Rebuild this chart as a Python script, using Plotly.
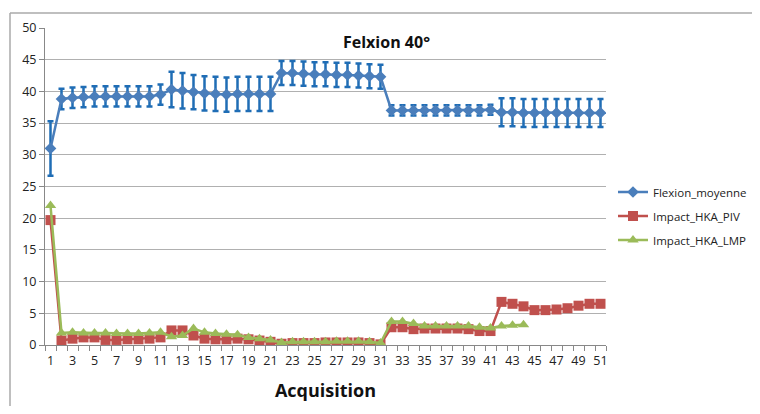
import plotly.graph_objects as go

acquisition = list(range(1, 52))

flexion_moyenne = [31.0, 38.8, 39.0, 39.1, 39.2, 39.2, 39.2, 39.2, 39.2, 39.2,
                   39.5, 40.3, 40.1, 39.9, 39.7, 39.6, 39.5, 39.6, 39.6, 39.6,
                   39.6, 42.9, 42.9, 42.8, 42.7, 42.7, 42.6, 42.6, 42.5, 42.4,
                   42.3, 37.0, 37.0, 37.0, 37.0, 37.0, 37.0, 37.0, 37.0, 37.0,
                   37.1, 36.7, 36.7, 36.6, 36.6, 36.6, 36.6, 36.6, 36.6, 36.6,
                   36.6]
flexion_err = [4.3] + [1.6] * 10 + [2.8, 2.8] + [2.7] * 8 + [1.9] * 10 + [0.8] * 10 + [2.2] * 10

impact_piv = [19.7, 0.7, 1.0, 1.2, 1.2, 0.8, 0.8, 0.9, 0.9, 1.0,
              1.2, 2.3, 2.3, 1.5, 1.0, 0.9, 0.9, 1.0, 0.9, 0.7,
              0.5, 0.2, 0.3, 0.3, 0.3, 0.4, 0.4, 0.4, 0.4, 0.3,
              0.1, 2.8, 2.8, 2.5, 2.6, 2.6, 2.6, 2.6, 2.5, 2.2,
              2.2, 6.8, 6.5, 6.1, 5.5, 5.5, 5.6, 5.8, 6.2, 6.5,
              6.5]

impact_lmp = [22.0, 1.9, 2.0, 1.9, 1.9, 1.9, 1.8, 1.8, 1.8, 1.9,
              2.0, 1.3, 1.5, 2.6, 2.0, 1.8, 1.7, 1.6, 1.2, 1.0,
              0.8, 0.4, 0.5, 0.5, 0.5, 0.5, 0.6, 0.6, 0.6, 0.5,
              0.3, 3.7, 3.7, 3.4, 3.0, 3.0, 3.0, 3.0, 3.0, 2.8,
              2.7, 3.0, 3.1, 3.2]

x_ticks = list(range(1, 52, 2))
y_ticks = list(range(0, 51, 5))

font_family = "Open Sans"

fig = go.Figure()

fig.add_trace(go.Scatter(
    x=acquisition, y=flexion_moyenne, name="Flexion_moyenne",
    mode="lines+markers", legendgroup="a",
    line=dict(color="#4A7EBB", width=2.5),
    marker=dict(symbol="diamond", size=9, color="#4A7EBB"),
    error_y=dict(type="data", array=flexion_err, visible=True,
                 color="#1F6DB5", thickness=2.5, width=3),
))
fig.add_trace(go.Scatter(
    x=acquisition, y=impact_piv, name="Impact_HKA_PIV",
    mode="lines+markers", legendgroup="b",
    line=dict(color="#C0504D", width=2.5),
    marker=dict(symbol="square", size=10, color="#C0504D"),
))
fig.add_trace(go.Scatter(
    x=acquisition[:len(impact_lmp)], y=impact_lmp, name="Impact_HKA_LMP",
    mode="lines+markers", legendgroup="c",
    line=dict(color="#9BBB59", width=2.5),
    marker=dict(symbol="triangle-up", size=10, color="#9BBB59"),
))

# page body has an 8px margin on every side: keep the figure inside the window
OFF = 8
W, H = 760 - 2 * OFF, 414 - 2 * OFF
plot_left, plot_right, plot_top, plot_bottom = 45, 606, 28, 345  # window pixels
ml = plot_left - OFF
mr = W - (plot_right - OFF)
mt = plot_top - OFF
mb = H - (plot_bottom - OFF)
pw = W - ml - mr
ph = H - mt - mb


def px_x(p):
    return (p - plot_left) / pw


def px_y(p):
    return (plot_bottom - p) / ph


fig.update_layout(
    width=W, height=H,
    margin=dict(l=ml, r=mr, t=mt, b=mb, autoexpand=False),
    paper_bgcolor="white", plot_bgcolor="white",
    font=dict(family=font_family, size=12, color="#222222"),
    showlegend=True,
    legend=dict(xref="container", yref="container",
                x=(613 - OFF) / W, y=1 - (216 - OFF) / H, xanchor="left", yanchor="middle",
                font=dict(size=11.5, color="#222222"), tracegroupgap=5,
                itemwidth=30, bgcolor="rgba(0,0,0,0)"),
    xaxis=dict(range=[0.5, 51.5], tickmode="array", tickvals=x_ticks,
               ticktext=[str(v) for v in x_ticks], ticks="", automargin=False,
               ticklabelstandoff=4,
               showgrid=False, zeroline=False, showline=True, linecolor="#888888",
               linewidth=1, tickfont=dict(size=12.5, color="#222222"),
               minor=dict(ticks="outside", tick0=0.5, dtick=1, ticklen=5,
                          tickcolor="#888888", showgrid=False),
               title=dict(text="<b>Acquisition</b>", font=dict(size=18, color="#111111"),
                          standoff=16)),
    yaxis=dict(range=[0, 50], tickmode="array", tickvals=y_ticks, ticks="outside",
               ticklen=5, tickcolor="#888888", automargin=False,
               showgrid=True, gridcolor="#B0B0B0", gridwidth=1, zeroline=False,
               showline=True, linecolor="#888888", linewidth=1,
               tickfont=dict(size=12.5, color="#222222")),
    annotations=[dict(text="<b>Felxion 40°</b>", x=px_x(386), y=px_y(42),
                      xref="paper", yref="paper", showarrow=False,
                      xanchor="center", yanchor="middle",
                      font=dict(size=16, color="#111111"))],
    shapes=[
        dict(type="line", xref="paper", yref="paper",
             x0=px_x(10), x1=px_x(800), y0=px_y(13), y1=px_y(13),
             line=dict(color="#AAAAAA", width=1.5), layer="below"),
        dict(type="line", xref="paper", yref="paper",
             x0=px_x(10), x1=px_x(10), y0=px_y(13), y1=px_y(460),
             line=dict(color="#AAAAAA", width=1.5), layer="below"),
    ],
)

fig.write_html("out.html")
